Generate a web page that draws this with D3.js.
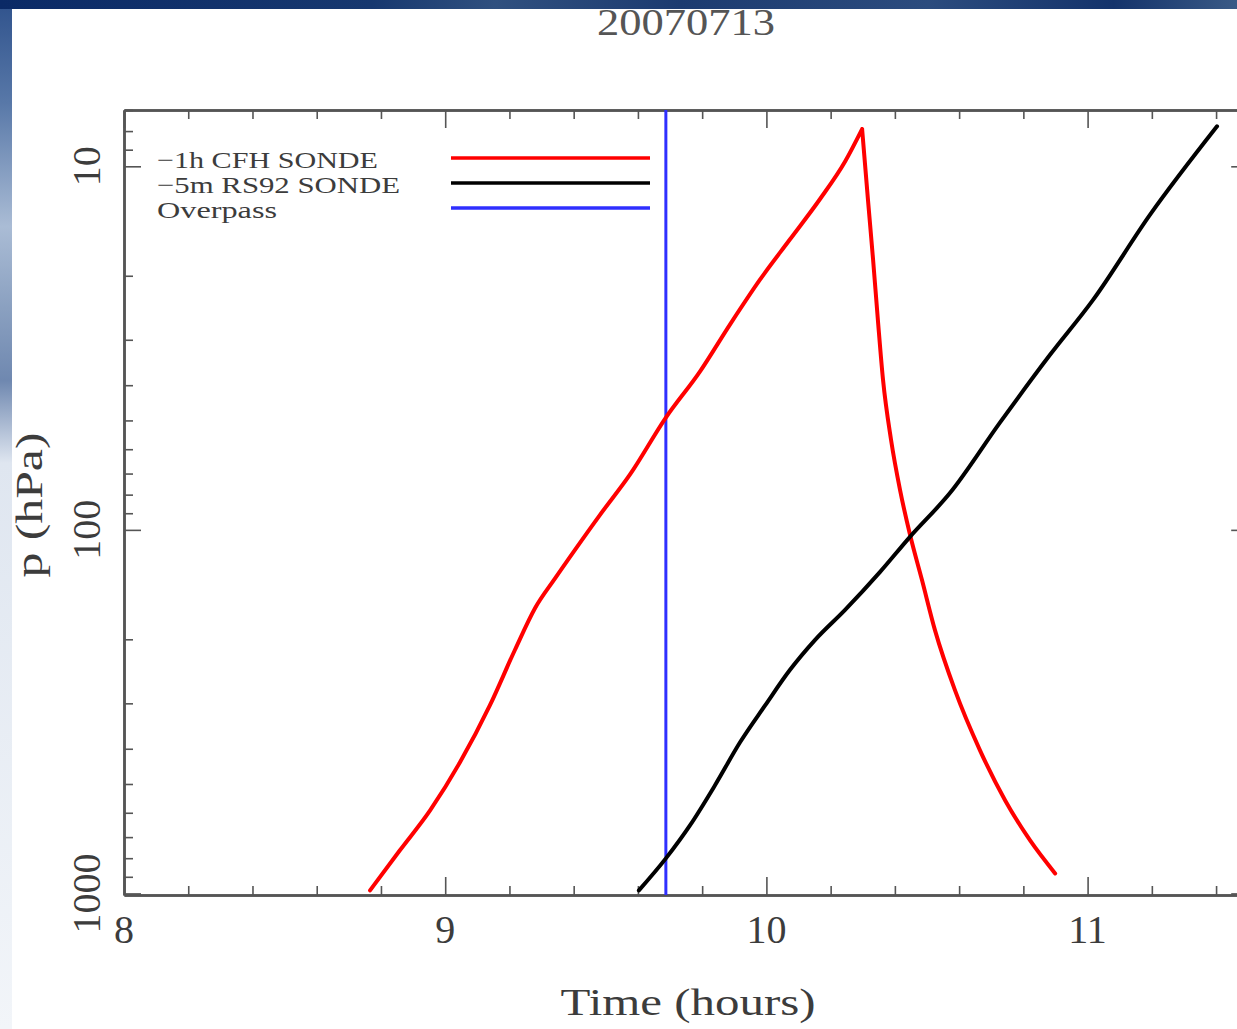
<!DOCTYPE html>
<html>
<head>
<meta charset="utf-8">
<script src="https://cdn.jsdelivr.net/npm/d3@7"></script>
<style>
  html, body { margin: 0; padding: 0; background: #ffffff; }
  svg { display: block; }
</style>
</head>
<body>
<script>
// Sounding ascent profiles: pressure (hPa) versus time of day (hours)
const chartTitle = "20070713";
const timeTicksMajor = [8, 9, 10, 11];
const pressureTicksMajor = [10, 100, 1000];
const seriesNames = ["\u22121h CFH SONDE", "\u22125m RS92 SONDE", "Overpass"];
const seriesColors = ["#ff0000", "#000000", "#2f2fff"];

// CFH sonde: ascent to burst, then descent
const cfhTime = [8.766, 8.859, 8.953, 9.046, 9.139, 9.217, 9.280, 9.342, 9.404, 9.482,
  9.575, 9.687, 9.793, 9.887, 9.980, 10.073, 10.167, 10.245, 10.298,
  10.316, 10.332, 10.347, 10.363, 10.388, 10.416, 10.447, 10.484, 10.525,
  10.587, 10.665, 10.743, 10.821, 10.899];
const cfhPressure = [981, 761, 591, 436, 304, 214, 164, 136, 113.5, 90.9,
  70.5, 49.1, 36.7, 27.2, 20.5, 15.9, 12.3, 9.7, 7.9,
  12.3, 18.0, 26.4, 38.6, 56.5, 77.6, 103, 137, 189,
  276, 404, 554, 715, 881];

// RS92 sonde ascent
const rs92Time = [9.603, 9.687, 9.762, 9.840, 9.918, 9.996, 10.073, 10.151, 10.245,
  10.354, 10.447, 10.572, 10.727, 10.883, 11.017, 11.194, 11.403];
const rs92Pressure = [981, 801, 650, 504, 384, 304, 243, 201, 166,
  130.5, 104.5, 79.1, 50.7, 33.0, 23.3, 13.6, 7.76];

// Satellite overpass time
const overpassTime = 9.687;

const W = 1237, H = 1029;
const svg = d3.select("body").append("svg").attr("width", W).attr("height", H);

// slide backdrop: dark band on top, fading strip on the left
const defs = svg.append("defs");
const bandGrad = defs.append("linearGradient").attr("id", "band").attr("x1", 0).attr("x2", 1).attr("y1", 0).attr("y2", 0);
[["0%", "#0b2a66"], ["30%", "#17386f"], ["40%", "#30507f"], ["55%", "#1c3b70"], ["75%", "#2c4c7e"], ["90%", "#14336b"], ["100%", "#3a5a86"]]
  .forEach(([o, c]) => bandGrad.append("stop").attr("offset", o).attr("stop-color", c));
const stripGrad = defs.append("linearGradient").attr("id", "strip").attr("x1", 0).attr("x2", 0).attr("y1", 0).attr("y2", 1);
[["0%", "#2f528c"], ["10%", "#5878a8"], ["22%", "#aabcd5"], ["30%", "#8aa0c0"], ["37%", "#6f88b0"], ["45%", "#dfe6f0"], ["100%", "#f2f5f9"]]
  .forEach(([o, c]) => stripGrad.append("stop").attr("offset", o).attr("stop-color", c));
svg.append("rect").attr("x", 0).attr("y", 0).attr("width", 12).attr("height", H).attr("fill", "url(#strip)");
svg.append("rect").attr("x", 0).attr("y", 0).attr("width", W).attr("height", 9).attr("fill", "url(#band)");

const x = d3.scaleLinear().domain([8, 11.5]).range([124, 1248.2]);
const y = d3.scaleLog().domain([7, 1010]).range([110, 895]);

const axisColor = "#555555";
const textColor = "#3c3c3c";
const serif = "'Liberation Serif', 'Times New Roman', serif";

const minorX = d3.range(40, 58).filter(i => i % 5 !== 0).map(i => i / 5);
const minorY = [];
[1, 10, 100].forEach(d => d3.range(2, 10).forEach(m => {
  const v = m * d;
  if (v >= 7 && v <= 1010) minorY.push(v);
}));

function styleAxis(g) {
  g.select(".domain").attr("stroke", axisColor).attr("stroke-width", 2.5);
  g.selectAll(".tick line").attr("stroke", axisColor).attr("stroke-width", 1.6);
  g.selectAll(".tick text").remove();
}

const [x0, x1] = x.range();
const [yTop, yBot] = y.range();

// bottom and top axes
svg.append("g").attr("transform", `translate(0,${yBot})`)
  .call(d3.axisBottom(x).tickValues(minorX).tickSize(-9).tickSizeOuter(0)).call(styleAxis);
svg.append("g").attr("transform", `translate(0,${yBot})`)
  .call(d3.axisBottom(x).tickValues(timeTicksMajor).tickSize(-18).tickSizeOuter(0)).call(styleAxis);
svg.append("g").attr("transform", `translate(0,${yTop})`)
  .call(d3.axisTop(x).tickValues(minorX).tickSize(-9).tickSizeOuter(0)).call(styleAxis);
svg.append("g").attr("transform", `translate(0,${yTop})`)
  .call(d3.axisTop(x).tickValues(timeTicksMajor).tickSize(-18).tickSizeOuter(0)).call(styleAxis);

// left and right axes
svg.append("g").attr("transform", `translate(${x0},0)`)
  .call(d3.axisLeft(y).tickValues(minorY).tickSize(-9).tickSizeOuter(0)).call(styleAxis);
svg.append("g").attr("transform", `translate(${x0},0)`)
  .call(d3.axisLeft(y).tickValues(pressureTicksMajor).tickSize(-17).tickSizeOuter(0)).call(styleAxis);
svg.append("g").attr("transform", `translate(${x1},0)`)
  .call(d3.axisRight(y).tickValues(minorY).tickSize(-9).tickSizeOuter(0)).call(styleAxis);
svg.append("g").attr("transform", `translate(${x1},0)`)
  .call(d3.axisRight(y).tickValues(pressureTicksMajor).tickSize(-17).tickSizeOuter(0)).call(styleAxis);

// tick labels
svg.append("g").selectAll("text").data(timeTicksMajor).join("text")
  .attr("x", d => x(d)).attr("y", 943)
  .attr("text-anchor", "middle")
  .attr("font-family", serif).attr("font-size", 40).attr("fill", textColor)
  .text(d => d);
svg.append("g").selectAll("text").data(pressureTicksMajor).join("text")
  .attr("transform", d => `translate(100,${y(d)}) rotate(-90)`)
  .attr("text-anchor", "middle")
  .attr("font-family", serif).attr("font-size", 40).attr("fill", textColor)
  .text(d => d);

// axis titles
svg.append("text")
  .attr("x", 688).attr("y", 1015)
  .attr("text-anchor", "middle")
  .attr("font-family", serif).attr("font-size", 38).attr("fill", textColor)
  .attr("textLength", 255).attr("lengthAdjust", "spacingAndGlyphs")
  .text("Time (hours)");
svg.append("text")
  .attr("transform", "translate(42,505) rotate(-90)")
  .attr("text-anchor", "middle")
  .attr("font-family", serif).attr("font-size", 38).attr("fill", textColor)
  .attr("textLength", 145).attr("lengthAdjust", "spacingAndGlyphs")
  .text("p (hPa)");

// title
svg.append("text")
  .attr("x", 686).attr("y", 35)
  .attr("text-anchor", "middle")
  .attr("font-family", serif).attr("font-size", 37).attr("fill", "#555")
  .attr("textLength", 178).attr("lengthAdjust", "spacingAndGlyphs")
  .text(chartTitle);

// overpass marker
svg.append("line")
  .attr("x1", x(overpassTime)).attr("x2", x(overpassTime))
  .attr("y1", yTop).attr("y2", yBot)
  .attr("stroke", seriesColors[2]).attr("stroke-width", 3);

// sounding profiles; the CFH profile is smoothed separately on each side of
// its burst point so the turn-around stays sharp
const line = d3.line().x(d => x(d[0])).y(d => y(d[1])).curve(d3.curveMonotoneX);
const cfhPoints = d3.zip(cfhTime, cfhPressure);
const burst = d3.minIndex(cfhPressure);
const cfhPath = line(cfhPoints.slice(0, burst + 1)) + line(cfhPoints.slice(burst));
svg.append("path")
  .attr("d", cfhPath)
  .attr("fill", "none").attr("stroke", seriesColors[0]).attr("stroke-width", 4)
  .attr("stroke-linejoin", "miter").attr("stroke-linecap", "round");
svg.append("path")
  .attr("d", line(d3.zip(rs92Time, rs92Pressure)))
  .attr("fill", "none").attr("stroke", seriesColors[1]).attr("stroke-width", 4)
  .attr("stroke-linejoin", "round").attr("stroke-linecap", "round");

// legend
const legendWidths = [221, 243, 120];
const legend = svg.append("g");
seriesNames.forEach((name, i) => {
  const base = 168 + i * 25;
  legend.append("text")
    .attr("x", 157).attr("y", base)
    .attr("font-family", serif).attr("font-size", 24).attr("fill", textColor)
    .attr("textLength", legendWidths[i]).attr("lengthAdjust", "spacingAndGlyphs")
    .text(name);
  legend.append("line")
    .attr("x1", 451).attr("x2", 650)
    .attr("y1", base - 10).attr("y2", base - 10)
    .attr("stroke", seriesColors[i]).attr("stroke-width", 3.5);
});
</script>
</body>
</html>
